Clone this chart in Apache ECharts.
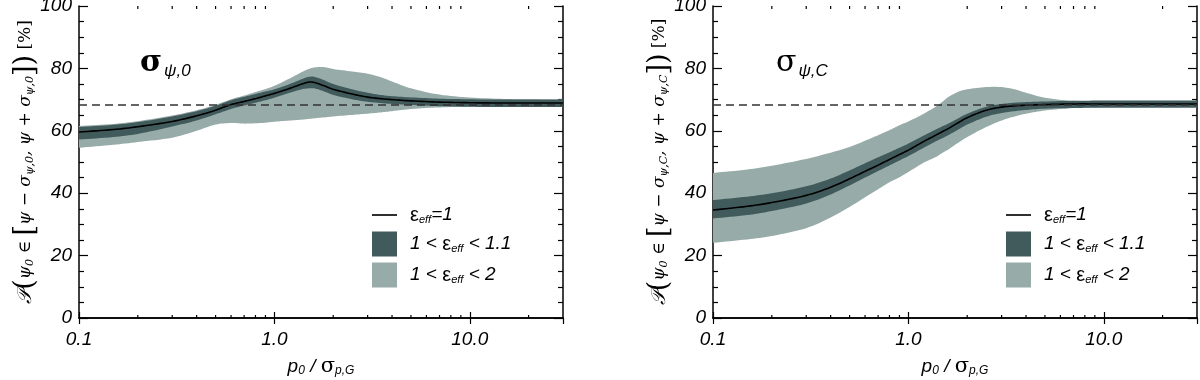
<!DOCTYPE html>
<html>
<head>
<meta charset="utf-8">
<script src="https://cdn.jsdelivr.net/npm/echarts@6/dist/echarts.min.js"></script>
<style>
html, body { margin: 0; padding: 0; background: #fff; }
#chart { width: 1200px; height: 380px; }
</style>
</head>
<body>
<div id="chart"></div>
<script>
// p0 / sigma_p,G sample points (log axis)
const xs = [0.1, 0.15, 0.2, 0.3, 0.4, 0.5, 0.6, 0.7, 0.8, 0.9, 1.0, 1.2, 1.4, 1.5, 1.6, 1.8, 2.0, 2.5, 3.0, 3.5, 4, 5, 7, 10, 15, 20, 30];
const xMinorTicks = [0.2, 0.3, 0.4, 0.5, 0.6, 0.7, 0.8, 0.9, 2, 3, 4, 5, 6, 7, 8, 9, 20];
const xMajorLabels = [0.1, 1, 10];
const refLevel = 68.3;

// left panel: sigma_psi,0
const lineL    = [59.6, 60.4, 61.3, 63.0, 64.8, 66.6, 68.4, 69.4, 70.3, 71.2, 72.0, 73.6, 75.1, 75.6, 75.5, 74.4, 73.3, 71.8, 70.8, 70.3, 70.0, 69.6, 69.2, 69.0, 68.9, 68.9, 68.9];
const darkHiL  = [61.2, 61.9, 62.8, 64.6, 66.3, 68.0, 69.8, 70.9, 71.8, 72.6, 73.3, 75.0, 76.7, 77.3, 77.3, 76.2, 75.0, 73.3, 72.2, 71.5, 71.1, 70.7, 70.3, 70.1, 70.0, 70.0, 70.0];
const darkLoL  = [57.2, 58.0, 59.0, 61.4, 63.3, 65.3, 67.0, 68.1, 69.0, 69.8, 70.6, 72.2, 73.4, 73.6, 73.6, 72.6, 71.5, 70.1, 69.3, 68.9, 68.6, 68.3, 67.9, 67.7, 67.6, 67.6, 67.6];
const lightHiL = [61.5, 62.2, 63.1, 64.9, 66.6, 68.3, 70.1, 71.3, 72.4, 73.4, 74.4, 76.8, 79.0, 79.8, 80.3, 80.4, 79.8, 79.0, 78.3, 77.2, 75.8, 73.6, 71.6, 70.7, 70.2, 70.1, 70.0];
const lightLoL = [54.6, 55.5, 56.4, 57.8, 60.0, 62.0, 62.5, 62.3, 62.4, 62.6, 62.9, 63.3, 63.6, 63.8, 64.0, 64.3, 64.6, 65.1, 65.5, 65.9, 66.3, 67.0, 67.5, 67.7, 67.8, 67.8, 67.8];

// right panel: sigma_psi,C
const lineR    = [34.6, 35.8, 37.0, 39.3, 41.9, 44.6, 47.0, 49.0, 50.8, 52.4, 53.8, 56.6, 58.8, 59.8, 60.7, 62.6, 64.2, 66.6, 67.6, 68.0, 68.2, 68.4, 68.6, 68.6, 68.6, 68.6, 68.6];
const darkHiR  = [37.8, 38.9, 40.0, 42.2, 44.7, 47.3, 49.6, 51.5, 53.1, 54.6, 55.9, 58.5, 60.6, 61.5, 62.3, 64.0, 65.5, 67.7, 68.6, 69.0, 69.2, 69.4, 69.6, 69.7, 69.7, 69.7, 69.7];
const darkLoR  = [31.9, 33.0, 34.3, 36.7, 39.6, 42.5, 45.0, 47.1, 48.9, 50.5, 51.9, 54.6, 56.8, 57.7, 58.6, 60.4, 62.0, 64.5, 65.7, 66.3, 66.7, 67.1, 67.3, 67.4, 67.4, 67.4, 67.4];
const lightHiR = [46.5, 47.6, 48.8, 51.0, 53.0, 54.8, 56.8, 58.6, 60.2, 61.8, 63.0, 65.5, 68.0, 69.4, 70.8, 72.5, 73.3, 74.0, 74.0, 73.3, 72.2, 70.6, 69.6, 69.3, 69.3, 69.3, 69.3];
const lightLoR = [24.1, 25.2, 26.3, 28.8, 32.2, 35.6, 38.7, 41.3, 43.5, 45.1, 46.8, 49.8, 51.8, 53.0, 54.0, 56.2, 58.0, 61.2, 63.3, 64.6, 65.5, 66.5, 67.3, 67.6, 67.8, 67.8, 67.8];

const names = ['eps1', 'eps11', 'eps2'];
const legendText = {
  eps1: '{g| }{e|ε}{s|eff}{t|=1}',
  eps11: '{g| }{t|1 < }{e|ε}{s|eff}{t| < 1.1}',
  eps2: '{g| }{t|1 < }{e|ε}{s|eff}{t| < 2}'
};
const lightColor = '#97aba8';
const darkColor = '#415b5d';

const sans = 'Liberation Sans, Arial, sans-serif';
const serif = 'DejaVu Serif, serif';

const chart = echarts.init(document.getElementById('chart'));

// smooth curve through pixel points (cubic hermite, finite-difference slopes)
function spline(pts, steps) {
  const n = pts.length;
  const m = pts.map((p, i) => {
    const a = pts[Math.max(i - 1, 0)];
    const b = pts[Math.min(i + 1, n - 1)];
    return (b[1] - a[1]) / (b[0] - a[0]);
  });
  const out = [];
  for (let i = 0; i < n - 1; i++) {
    const dx = pts[i + 1][0] - pts[i][0];
    for (let s = 0; s < steps; s++) {
      const t = s / steps, t2 = t * t, t3 = t2 * t;
      const y = (2 * t3 - 3 * t2 + 1) * pts[i][1] + (t3 - 2 * t2 + t) * dx * m[i]
        + (-2 * t3 + 3 * t2) * pts[i + 1][1] + (t3 - t2) * dx * m[i + 1];
      out.push([pts[i][0] + t * dx, y]);
    }
  }
  out.push(pts[n - 1]);
  return out;
}

function bandSeries(name, lo, hi, color, gi, withRef) {
  const s = {
    name: name,
    type: 'custom',
    xAxisIndex: gi * 2,
    yAxisIndex: gi * 2,
    silent: true,
    clip: true,
    itemStyle: { color: color },
    encode: { x: 0, y: [1, 2] },
    data: xs.map((x, i) => [x, lo[i], hi[i]]),
    renderItem: (params, api) => {
      if (params.dataIndex !== 0) return null;
      const top = spline(xs.map((x, i) => api.coord([x, hi[i]])), 8);
      const bot = spline(xs.map((x, i) => api.coord([x, lo[i]])), 8).reverse();
      return {
        type: 'polygon',
        shape: { points: top.concat(bot) },
        style: { fill: color }
      };
    }
  };
  if (withRef) {
    s.markLine = {
      silent: true,
      symbol: 'none',
      label: { show: false },
      lineStyle: { type: [8, 5], color: '#333', width: 1.5 },
      data: [{ yAxis: refLevel }]
    };
  }
  return s;
}

function lineSeries(vals, gi) {
  return {
    name: names[0],
    type: 'custom',
    xAxisIndex: gi * 2,
    yAxisIndex: gi * 2,
    silent: true,
    clip: true,
    itemStyle: { color: '#000' },
    encode: { x: 0, y: 1 },
    data: xs.map((x, i) => [x, vals[i]]),
    renderItem: (params, api) => {
      if (params.dataIndex !== 0) return null;
      return {
        type: 'polyline',
        shape: { points: spline(xs.map((x, i) => api.coord([x, vals[i]])), 8) },
        style: { stroke: '#000', lineWidth: 1.6, fill: null }
      };
    }
  };
}

function minorTickSeries(gi) {
  return {
    type: 'custom',
    xAxisIndex: gi * 2,
    yAxisIndex: gi * 2,
    silent: true,
    encode: { x: 0, y: 1 },
    data: xMinorTicks.map(v => [v, 0]),
    renderItem: (params, api) => {
      const v = api.value(0);
      const b = api.coord([v, 0]);
      const t = api.coord([v, 100]);
      const st = { stroke: '#000', lineWidth: 1.2 };
      return {
        type: 'group',
        children: [
          { type: 'line', shape: { x1: b[0], y1: b[1], x2: b[0], y2: b[1] - 3 }, style: st },
          { type: 'line', shape: { x1: t[0], y1: t[1], x2: t[0], y2: t[1] + 3 }, style: st }
        ]
      };
    }
  };
}

const axisLineStyle = { color: '#000', width: 1.5 };

function xAxes(gi) {
  const base = {
    type: 'log',
    logBase: 10,
    gridIndex: gi,
    min: 0.1,
    max: 30,
    splitLine: { show: false },
    axisLine: { lineStyle: axisLineStyle },
    axisTick: { inside: true, length: 6, lineStyle: { color: '#000', width: 1.2 } }
  };
  return [
    Object.assign({}, base, {
      position: 'bottom',
      axisLabel: {
        fontSize: 19, fontStyle: 'italic', fontFamily: sans, color: '#000', margin: 12,
        showMaxLabel: false,
        formatter: v => xMajorLabels.some(m => Math.abs(m - v) / m < 1e-6) ? v.toFixed(1) : ''
      },
      name: '{t|p}{s|0}{t| / }{g|σ}{s|p,G}',
      nameLocation: 'middle',
      nameGap: 38,
      nameMoveOverlap: false,
      nameTextStyle: {
        rich: {
          t: { fontSize: 19, fontStyle: 'italic', fontFamily: sans, color: '#000' },
          g: { fontSize: 21, fontFamily: serif, color: '#000' },
          s: { fontSize: 12, fontStyle: 'italic', fontFamily: sans, color: '#000', padding: [8, 0, 0, 0] }
        }
      }
    }),
    Object.assign({}, base, { position: 'top', axisLabel: { show: false } })
  ];
}

function yAxes(gi, subText) {
  const base = {
    type: 'value',
    gridIndex: gi,
    min: 0,
    max: 100,
    interval: 20,
    splitLine: { show: false },
    axisLine: { show: true, lineStyle: axisLineStyle },
    axisTick: { inside: true, length: 9, lineStyle: { color: '#000', width: 1.2 } },
    minorTick: { show: true, splitNumber: 4, length: 5, lineStyle: { color: '#000', width: 1.2 } }
  };
  return [
    Object.assign({}, base, {
      position: 'left',
      axisLabel: { fontSize: 19, fontStyle: 'italic', fontFamily: sans, color: '#000', margin: 7 },
      name: '{P|𝒫}{b|(}{m|ψ}{s|0}{m| ∈ }{b|[}{m|ψ − σ}{s|' + subText + '}{m|, ψ + σ}{s|' + subText + '}{b|])}{u| [%]}',
      nameLocation: 'middle',
      nameRotate: 90,
      nameGap: 40,
      nameMoveOverlap: false,
      nameTextStyle: {
        rich: {
          P: { fontSize: 20, fontStyle: 'italic', fontFamily: serif, color: '#000' },
          m: { fontSize: 17, fontStyle: 'italic', fontFamily: serif, color: '#000' },
          s: { fontSize: 11, fontStyle: 'italic', fontFamily: serif, color: '#000', padding: [10, 0, 0, 0] },
          b: { fontSize: 27, fontFamily: serif, color: '#000' },
          u: { fontSize: 17, fontFamily: serif, color: '#000' }
        }
      }
    }),
    Object.assign({}, base, { position: 'right', axisLabel: { show: false } })
  ];
}

function legendFor(gi) {
  return {
    orient: 'vertical',
    left: 367 + gi * 634,
    top: 200,
    itemWidth: 25,
    itemHeight: 25,
    itemGap: 6,
    selectedMode: false,
    data: [
      { name: names[0], icon: 'path://M0,0 L20,0 L20,1.3 L0,1.3 Z' },
      { name: names[1], icon: 'rect' },
      { name: names[2], icon: 'rect' }
    ],
    formatter: n => legendText[n],
    textStyle: {
      rich: {
        g: { width: 8 },
        t: { fontSize: 19, fontStyle: 'italic', fontFamily: sans, color: '#000' },
        e: { fontSize: 20, fontFamily: sans, color: '#000' },
        s: { fontSize: 11, fontStyle: 'italic', fontFamily: sans, color: '#000', padding: [10, 0, 0, 0] }
      }
    }
  };
}

function titleFor(gi, sub, bold) {
  return {
    text: '{s|σ}{b|' + sub + '}',
    left: 135 + gi * 636,
    top: 42,
    textStyle: {
      rich: {
        s: { fontSize: 30, fontFamily: serif, fontWeight: bold ? 'bold' : 'normal', color: '#000' },
        b: { fontSize: 17, fontStyle: 'italic', fontWeight: 'normal', fontFamily: sans, color: '#000', padding: [16, 0, 0, 2] }
      }
    }
  };
}

const option = {
  animation: false,
  backgroundColor: '#fff',
  title: [titleFor(0, 'ψ,0', true), titleFor(1, 'ψ,C', false)],
  legend: [legendFor(0), legendFor(1)],
  grid: [
    { left: 79, top: 6, width: 484, height: 312, outerBoundsMode: 'none' },
    { left: 713, top: 6, width: 484, height: 312, outerBoundsMode: 'none' }
  ],
  xAxis: xAxes(0).concat(xAxes(1)),
  yAxis: yAxes(0, 'ψ,0').concat(yAxes(1, 'ψ,C')),
  series: [
    bandSeries(names[2], lightLoL, lightHiL, lightColor, 0, false),
    bandSeries(names[1], darkLoL, darkHiL, darkColor, 0, true),
    lineSeries(lineL, 0),
    minorTickSeries(0),
    bandSeries(names[2], lightLoR, lightHiR, lightColor, 1, false),
    bandSeries(names[1], darkLoR, darkHiR, darkColor, 1, true),
    lineSeries(lineR, 1),
    minorTickSeries(1)
  ]
};

chart.setOption(option);
</script>
</body>
</html>
